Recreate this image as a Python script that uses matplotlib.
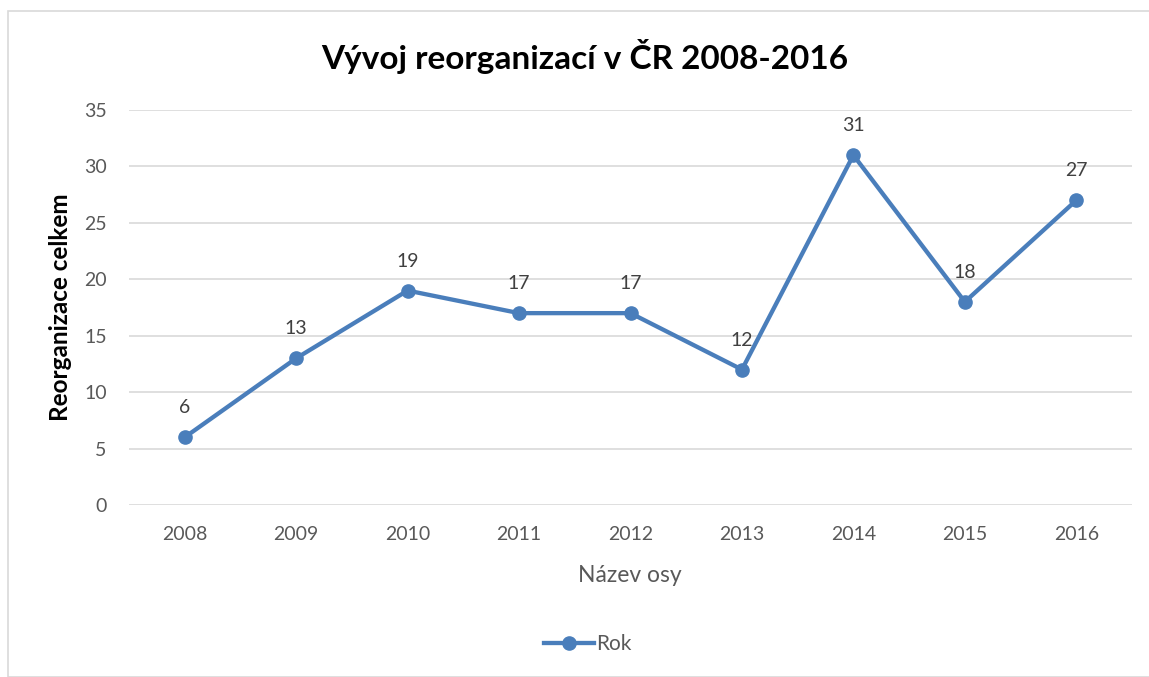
import matplotlib.pyplot as plt
from matplotlib.patches import Rectangle

years = ['2008', '2009', '2010', '2011', '2012', '2013', '2014', '2015', '2016']
reorg = [6, 13, 19, 17, 17, 12, 31, 18, 27]

plt.rcParams['font.family'] = ['Lato', 'DejaVu Sans']

W, H = 1149, 677
fig = plt.figure(figsize=(W / 100, H / 100), dpi=100)
fig.patches.append(Rectangle((8 / W, 0), 1.2, 1 - 11 / H, transform=fig.transFigure,
                             fill=False, edgecolor='#d9d9d9', linewidth=1.2))

ax = fig.add_axes([129 / W, 1 - 505 / H, (1132 - 129) / W, (505 - 110) / H])
x = range(len(years))
ax.plot(x, reorg, color='#4a7ebb', linewidth=3.1, marker='o', markersize=9.5, label='Rok',
        zorder=3)
for i, v in enumerate(reorg):
    ax.annotate(str(v), (i, v), xytext=(0, 15), textcoords='offset points',
                ha='center', va='bottom', fontsize=14, color='#404040')

ax.set_xlim(-0.5, len(years) - 0.5)
ax.set_ylim(0, 35)
ax.set_yticks(range(0, 36, 5))
ax.set_xticks(list(x))
ax.set_xticklabels(years)
ax.grid(axis='y', color='#d9d9d9', linewidth=1.2)
ax.set_axisbelow(True)
for s in ax.spines.values():
    s.set_visible(False)
ax.tick_params(length=0, labelsize=14, labelcolor='#595959')
ax.tick_params(axis='x', pad=15)
ax.tick_params(axis='y', pad=16)

fig.text(585 / W, 1 - 57 / H, 'Vývoj reorganizací v ČR 2008-2016', fontsize=24,
         fontweight='bold', color='black', ha='center', va='center')
fig.text(60 / W, 1 - 307 / H, 'Reorganizace celkem', fontsize=17.5, fontweight='bold',
         color='black', rotation=90, ha='center', va='center')
fig.text(630 / W, 1 - 575 / H, 'Název osy', fontsize=16.5, color='#595959',
         ha='center', va='center')

fig.legend(loc='center', bbox_to_anchor=(588 / W, 1 - 644 / H), frameon=False,
           fontsize=15, labelcolor='#595959', handlelength=2.4, handletextpad=0.1)

fig.savefig('out.png', dpi=100)
